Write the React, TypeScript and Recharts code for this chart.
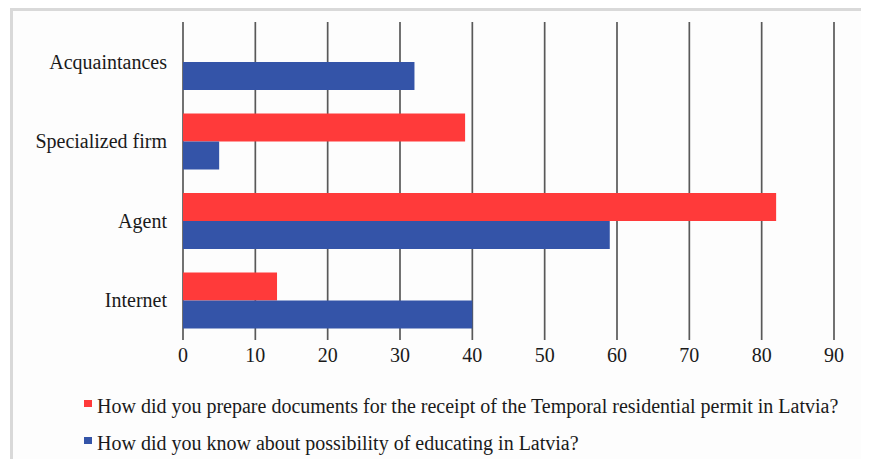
import { Bar, BarChart, CartesianGrid, XAxis, YAxis } from "recharts";

const categories = ["Acquaintances", "Specialized firm", "Agent", "Internet"];
const documentsValues = [0, 39, 82, 13];
const educationValues = [32, 5, 59, 40];
const xTicks = [0, 10, 20, 30, 40, 50, 60, 70, 80, 90];

const seriesNames = {
  documents: "How did you prepare documents for the receipt of the Temporal residential permit in Latvia?",
  education: "How did you know about possibility of educating in Latvia?",
};

const data = categories.map((name, i) => ({
  name,
  documents: documentsValues[i],
  education: educationValues[i],
}));

const font = '"Liberation Serif", "Times New Roman", serif';
const red = "#ff3a3a";
const blue = "#3454a8";

const legendItems = [
  { color: red, label: seriesNames.documents, top: 396 },
  { color: blue, label: seriesNames.education, top: 433 },
];

export default function App() {
  return (
    <div style={{ position: "relative", width: 861, height: 451 }}>
      <div style={{ position: "absolute", left: -8, top: -8, width: 869, height: 459, overflow: "hidden" }}>
        {/* frame */}
        <div
          style={{
            position: "absolute",
            left: 10,
            top: 8,
            width: 850,
            height: 460,
            border: "3px solid #d9d9d9",
            borderBottom: "none",
            background: "#fdfdfd",
          }}
        />
        <div style={{ position: "absolute", left: 0, top: 0 }}>
          <BarChart
            width={869}
            height={459}
            data={data}
            layout="vertical"
            margin={{ top: 22, right: 35, bottom: 89, left: 0 }}
            barSize={28}
            barGap={0}
            barCategoryGap={12}
          >
            <CartesianGrid horizontal={false} stroke="#595959" strokeWidth={1.7} />
            <XAxis
              type="number"
              domain={[0, 90]}
              ticks={xTicks}
              axisLine={false}
              tickLine={false}
              height={30}
              tickMargin={2}
              tick={{ fill: "#1a1a1a", fontSize: 20, fontFamily: font }}
            />
            <YAxis
              type="category"
              dataKey="name"
              width={183}
              axisLine={false}
              tickLine={false}
              tickMargin={10}
              tick={{ fill: "#1a1a1a", fontSize: 20, fontFamily: font }}
            />
            <Bar dataKey="documents" name={seriesNames.documents} fill={red} isAnimationActive={false} />
            <Bar dataKey="education" name={seriesNames.education} fill={blue} isAnimationActive={false} />
          </BarChart>
        </div>
        {/* legend */}
        {legendItems.map((it) => (
          <div
            key={it.label}
            style={{
              position: "absolute",
              left: 84,
              top: it.top,
              display: "flex",
              alignItems: "flex-start",
              fontFamily: font,
              fontSize: 20,
              lineHeight: "20px",
              color: "#1a1a1a",
              whiteSpace: "nowrap",
            }}
          >
            <span style={{ width: 8, height: 7, background: it.color, marginTop: 4, marginRight: 5, display: "inline-block" }} />
            <span>{it.label}</span>
          </div>
        ))}
      </div>
    </div>
  );
}
